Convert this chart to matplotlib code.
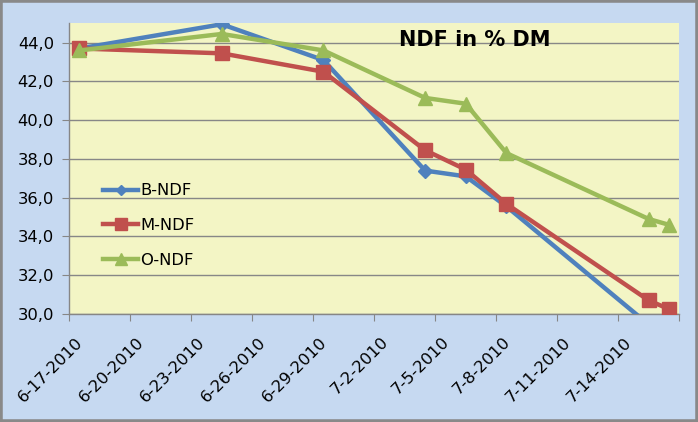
import matplotlib
matplotlib.use("Agg")
import matplotlib.pyplot as plt
import matplotlib.ticker as mticker
import matplotlib.transforms as mtransforms
from matplotlib.patches import Rectangle
import pandas as pd

dates = ["2010-06-17", "2010-06-24", "2010-06-29", "2010-07-04",
         "2010-07-06", "2010-07-08", "2010-07-15", "2010-07-16"]
b_ndf = [43.7, 44.95, 43.1, 37.4, 37.1, 35.55, 29.45, 28.9]
m_ndf = [43.7, 43.45, 42.5, 38.45, 37.45, 35.68, 30.7, 30.25]
o_ndf = [43.6, 44.45, 43.6, 41.15, 40.85, 38.3, 34.9, 34.6]
series_names = ["B-NDF", "M-NDF", "O-NDF"]
title = "NDF in % DM"

x = pd.to_datetime(dates) + pd.Timedelta(hours=12)

fig = plt.figure(figsize=(6.98, 4.22), dpi=100, facecolor="#C6D9F1")
ax = fig.add_axes([69.3/698, 1-314/422, (679.3-69.3)/698, (314-23.3)/422])
ax.set_facecolor("#F3F5C5")

colors = ["#4F81BD", "#C0504D", "#9BBB59"]
markers = ["D", "s", "^"]
msizes = [7, 10, 10]
for vals, name, c, m, ms in zip([b_ndf, m_ndf, o_ndf], series_names, colors, markers, msizes):
    ax.plot(x, vals, color=c, lw=3.2, marker=m, ms=ms, mec=c, mfc=c, label=name, zorder=3)

ax.set_ylim(30, 45)
ax.set_yticks([30, 32, 34, 36, 38, 40, 42, 44])
ax.yaxis.set_major_formatter(mticker.FuncFormatter(lambda v, p: f"{v:.1f}".replace(".", ",")))
ax.yaxis.grid(True, color="#878787", lw=1.0)
ax.set_axisbelow(True)

start = pd.Timestamp("2010-06-17")
end = pd.Timestamp("2010-07-17")
ax.set_xlim(start, end)
ticks = pd.date_range(start, end, freq="3D")
ax.set_xticks(ticks)
labels = [f"{d.month}-{d.day}-{d.year}" if d < end else "" for d in ticks]
ax.set_xticklabels(labels, rotation=45, ha="right", va="top", rotation_mode="anchor")

for s in ["top", "right"]:
    ax.spines[s].set_visible(False)
for s in ["left", "bottom"]:
    ax.spines[s].set_color("#868686")
    ax.spines[s].set_linewidth(1.0)
ax.tick_params(axis="both", direction="out", length=5, color="#868686", labelsize=11.8, labelcolor="black")
ax.tick_params(axis="x", pad=4)
ax.tick_params(axis="y", pad=6)
offset = mtransforms.ScaledTranslation(6/100, -8/100, fig.dpi_scale_trans)
for lab in ax.get_xticklabels():
    lab.set_transform(lab.get_transform() + offset)

leg = ax.legend(loc="upper left", bbox_to_anchor=(0.045, 0.472), frameon=False,
                fontsize=11.8, handlelength=2.1, handletextpad=0.15, labelspacing=1.2,
                borderaxespad=0, markerscale=0.8)

fig.text(475/698, 1-40/422, title, ha="center", va="center", fontsize=15,
         fontweight="bold", color="black")

fig.patches.append(Rectangle((0, 0), 1, 1, transform=fig.transFigure, fill=False,
                             edgecolor="#898989", lw=4, zorder=10))

fig.savefig("out.png", dpi=100, facecolor=fig.get_facecolor())
